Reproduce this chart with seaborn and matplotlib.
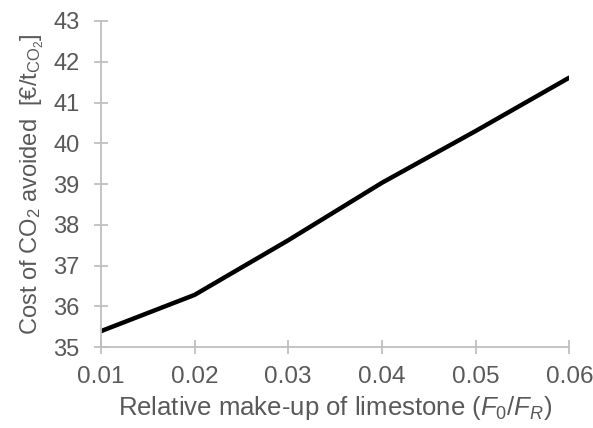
import matplotlib
matplotlib.use("Agg")
import matplotlib.pyplot as plt
import seaborn as sns
import pandas as pd

makeup_ratio = [0.01, 0.02, 0.03, 0.04, 0.05, 0.06]
cost_avoided = [35.39, 36.28, 37.62, 39.03, 40.30, 41.61]
x_ticks = [0.01, 0.02, 0.03, 0.04, 0.05, 0.06]
y_ticks = [35, 36, 37, 38, 39, 40, 41, 42, 43]

sns.set_style("white")
plt.rcParams['font.family'] = ['Liberation Sans', 'DejaVu Sans']
plt.rcParams['mathtext.fontset'] = 'custom'
plt.rcParams['mathtext.rm'] = 'Liberation Sans'
plt.rcParams['mathtext.it'] = 'Liberation Sans:italic'
plt.rcParams['mathtext.bf'] = 'Liberation Sans:bold'

df = pd.DataFrame({"ratio": makeup_ratio, "cost": cost_avoided})

fig = plt.figure(figsize=(5.93, 4.28), dpi=100)
ax = fig.add_axes([0.170, 0.189, 0.790, 0.762])

sns.lineplot(data=df, x="ratio", y="cost", ax=ax, color="black", linewidth=3.2)

ax.set_xlim(0.01, 0.06)
ax.set_ylim(35, 43)
ax.set_xticks(x_ticks)
ax.set_yticks(y_ticks)
ax.set_xticklabels([f"{v:.2f}" for v in x_ticks])
ax.set_yticklabels([str(v) for v in y_ticks])

grey = "#bfbfbf"
txt = "#595959"
for s in ["top", "right"]:
    ax.spines[s].set_visible(False)
for s in ["left", "bottom"]:
    ax.spines[s].set_color(grey)
    ax.spines[s].set_linewidth(1.3)

ax.tick_params(axis="both", direction="inout", length=10.5, width=1.3, color=grey,
               labelcolor=txt, bottom=True, left=True)
ax.tick_params(axis="x", pad=8, labelsize=17.5)
ax.tick_params(axis="y", pad=10, labelsize=17)

ax.set_xlabel("Relative make-up of limestone ($\\mathit{F}_{\\mathit{0}}\\mathit{/F}_{\\mathit{R}}\\mathit{)}$",
              fontsize=18.5, color=txt)
ax.set_ylabel("Cost of CO$_2$ avoided  [€/t$_{\\mathrm{CO}_2}$]", fontsize=17, color=txt)
ax.xaxis.set_label_coords(0.5, -0.145)
ax.yaxis.set_label_coords(-0.118, 0.5)

fig.savefig("out.png", dpi=100)
